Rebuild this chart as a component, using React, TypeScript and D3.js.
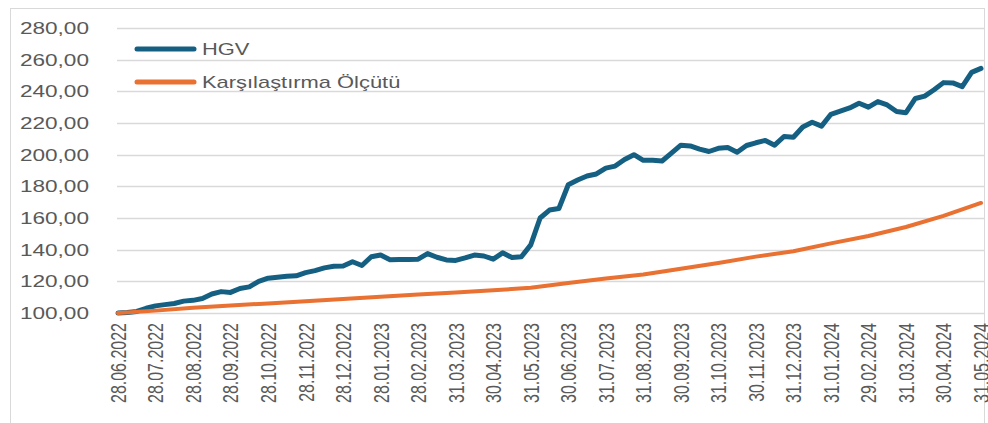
import React, { useEffect, useRef } from "react";
import * as d3 from "d3";

// month tick labels (one per month)
const dateLabels = [
  "28.06.2022", "28.07.2022", "28.08.2022", "28.09.2022", "28.10.2022", "28.11.2022",
  "28.12.2022", "28.01.2023", "28.02.2023", "31.03.2023", "30.04.2023", "31.05.2023",
  "30.06.2023", "31.07.2023", "31.08.2023", "30.09.2023", "31.10.2023", "30.11.2023",
  "31.12.2023", "31.01.2024", "29.02.2024", "31.03.2024", "30.04.2024", "31.05.2024",
];

// HGV, read roughly every quarter month
const hgvValues = [
  100, 100.3, 101, 103, 104.5, 105.3, 106, 107.5, 108, 109.2,
  112, 113.5, 113, 115.5, 116.5, 120, 122, 122.6, 123.2, 123.5,
  125.5, 126.8, 128.5, 129.5, 129.7, 132.4, 130, 135.5, 136.6, 133.6,
  133.8, 133.8, 134, 137.5, 135.2, 133.5, 133.2, 134.8, 136.6, 136,
  134, 138, 135, 135.5, 143, 160, 165, 166, 181, 184,
  186.5, 187.8, 191.5, 192.8, 197, 200, 196.4, 196.5, 196, 201,
  206, 205.5, 203.5, 202, 204, 204.5, 201.5, 205.8, 207.5, 209,
  206, 211.5, 211, 217.5, 220.5, 218, 225.5, 227.5, 229.5, 232.5,
  230, 233.5, 231.4, 227.3, 226.5, 235.5, 237, 241, 245.5, 245.3,
  243, 252, 254.5,
];

// Karşılaştırma Ölçütü, one value per month
const benchmarkValues = [
  100, 101.5, 103.3, 104.8, 106, 107.4, 108.8, 110.2, 111.7, 113, 114.3, 116,
  119, 121.8, 124.3, 128, 131.6, 135.6, 139, 144, 148.6, 154.3, 161.3, 169.5,
];

const yTicks = [100, 120, 140, 160, 180, 200, 220, 240, 260, 280];

const seriesNames = ["HGV", "Karşılaştırma Ölçütü"];
const colors = ["#156082", "#E97132"];

const W = 988;
const H = 423;
const STRETCH = 1.37;
const STEPS_PER_MONTH = 4;

export default function App() {
  const ref = useRef<SVGSVGElement>(null);

  useEffect(() => {
    const svg = d3.select(ref.current);
    svg.selectAll("*").remove();

    const font = "'Liberation Sans', Arial, sans-serif";
    const textColor = "#595959";

    const x = d3.scaleLinear()
      .domain([0, (dateLabels.length - 1) * STEPS_PER_MONTH])
      .range([118, 981]);

    const y = d3.scaleLinear()
      .domain([100, 280])
      .range([313, 28]);

    const fmt = (v: number) => d3.format(".2f")(v).replace(".", ",");

    // frame
    svg.append("rect")
      .attr("x", 10.5).attr("y", 8.5)
      .attr("width", 974).attr("height", 430)
      .attr("fill", "#fff")
      .attr("stroke", "#d9d9d9");

    // gridlines
    svg.append("g")
      .selectAll("line")
      .data(yTicks)
      .join("line")
      .attr("x1", 117).attr("x2", 984)
      .attr("y1", d => Math.round(y(d)) + 0.5)
      .attr("y2", d => Math.round(y(d)) + 0.5)
      .attr("stroke", "#d9d9d9")
      .attr("stroke-width", 1.5);

    // y labels
    svg.append("g")
      .selectAll("text")
      .data(yTicks)
      .join("text")
      .attr("transform", d => `translate(89,${y(d)}) scale(${STRETCH},1)`)
      .attr("dy", "0.36em")
      .attr("text-anchor", "end")
      .attr("font-family", font)
      .attr("font-size", 16.5)
      .attr("fill", textColor)
      .text(d => fmt(d));

    // x labels
    svg.append("g")
      .selectAll("text")
      .data(dateLabels)
      .join("text")
      .attr("transform", (d, i) => `translate(${x(i * STEPS_PER_MONTH)},323) scale(${STRETCH},1) rotate(-90)`)
      .attr("dy", "0.36em")
      .attr("text-anchor", "end")
      .attr("font-family", font)
      .attr("font-size", 16)
      .attr("fill", textColor)
      .text(d => d);

    const line = d3.line<[number, number]>()
      .x(d => x(d[0]))
      .y(d => y(d[1]));

    const hgvPts: [number, number][] = hgvValues.map((v, i) => [i, v]);
    const benchPts: [number, number][] = benchmarkValues.map((v, i) => [i * STEPS_PER_MONTH, v]);

    svg.append("path")
      .attr("d", line(hgvPts))
      .attr("fill", "none")
      .attr("stroke", colors[0])
      .attr("stroke-width", 5)
      .attr("stroke-linejoin", "round")
      .attr("stroke-linecap", "round");

    svg.append("path")
      .attr("d", line(benchPts))
      .attr("fill", "none")
      .attr("stroke", colors[1])
      .attr("stroke-width", 4)
      .attr("stroke-linejoin", "round")
      .attr("stroke-linecap", "round");

    // legend
    const legend = svg.append("g")
      .selectAll("g")
      .data(seriesNames)
      .join("g")
      .attr("transform", (d, i) => `translate(0,${49 + i * 33})`);

    legend.append("line")
      .attr("x1", 137).attr("x2", 194)
      .attr("stroke", (d, i) => colors[i])
      .attr("stroke-width", 5)
      .attr("stroke-linecap", "round");

    legend.append("text")
      .attr("transform", `translate(202,0) scale(${STRETCH},1)`)
      .attr("dy", "0.36em")
      .attr("font-family", font)
      .attr("font-size", 16)
      .attr("fill", textColor)
      .text(d => d);
  }, []);

  return (
    <div style={{ position: "absolute", left: 0, top: 0, width: W, height: H, background: "#fff" }}>
      <svg ref={ref} width={W} height={H} />
    </div>
  );
}
